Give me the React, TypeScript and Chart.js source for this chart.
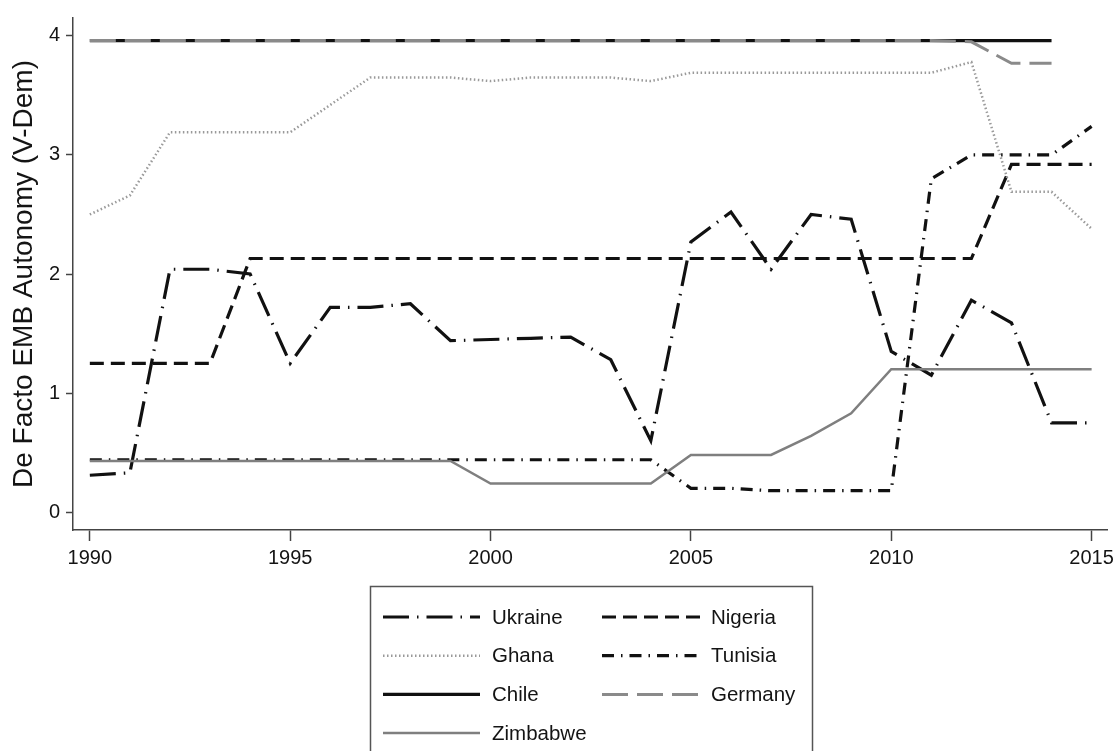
import React, { useEffect, useRef } from "react";
import { Chart, registerables } from "chart.js";

Chart.register(...registerables);

// ---- Data ----
const YEARS = [1990, 1991, 1992, 1993, 1994, 1995, 1996, 1997, 1998, 1999, 2000, 2001, 2002, 2003, 2004, 2005, 2006, 2007, 2008, 2009, 2010, 2011, 2012, 2013, 2014, 2015];

const UKRAINE = [0.31, 0.33, 2.04, 2.04, 2.0, 1.25, 1.72, 1.72, 1.75, 1.44, 1.45, 1.46, 1.47, 1.28, 0.6, 2.27, 2.52, 2.04, 2.5, 2.46, 1.35, 1.15, 1.78, 1.59, 0.75, 0.75];
const NIGERIA = [1.25, 1.25, 1.25, 1.25, 2.13, 2.13, 2.13, 2.13, 2.13, 2.13, 2.13, 2.13, 2.13, 2.13, 2.13, 2.13, 2.13, 2.13, 2.13, 2.13, 2.13, 2.13, 2.13, 2.92, 2.92, 2.92];
const GHANA = [2.5, 2.66, 3.19, 3.19, 3.19, 3.19, 3.42, 3.65, 3.65, 3.65, 3.62, 3.65, 3.65, 3.65, 3.62, 3.69, 3.69, 3.69, 3.69, 3.69, 3.69, 3.69, 3.78, 2.69, 2.69, 2.38];
const TUNISIA = [0.44, 0.44, 0.44, 0.44, 0.44, 0.44, 0.44, 0.44, 0.44, 0.44, 0.44, 0.44, 0.44, 0.44, 0.44, 0.2, 0.2, 0.18, 0.18, 0.18, 0.18, 2.8, 3.0, 3.0, 3.0, 3.24];
const CHILE = [3.96, 3.96, 3.96, 3.96, 3.96, 3.96, 3.96, 3.96, 3.96, 3.96, 3.96, 3.96, 3.96, 3.96, 3.96, 3.96, 3.96, 3.96, 3.96, 3.96, 3.96, 3.96, 3.96, 3.96, 3.96, null];
const GERMANY = [3.96, 3.96, 3.96, 3.96, 3.96, 3.96, 3.96, 3.96, 3.96, 3.96, 3.96, 3.96, 3.96, 3.96, 3.96, 3.96, 3.96, 3.96, 3.96, 3.96, 3.96, 3.96, 3.95, 3.77, 3.77, null];
const ZIMBABWE = [0.43, 0.43, 0.43, 0.43, 0.43, 0.43, 0.43, 0.43, 0.43, 0.43, 0.24, 0.24, 0.24, 0.24, 0.24, 0.48, 0.48, 0.48, 0.64, 0.83, 1.2, 1.2, 1.2, 1.2, 1.2, 1.2];

const X_TICKS = [1990, 1995, 2000, 2005, 2010, 2015];
const Y_TICKS = [0, 1, 2, 3, 4];
const Y_TITLE = "De Facto EMB Autonomy (V-Dem)";
const LEGEND_ROWS = [
  ["Ukraine", "Nigeria"],
  ["Ghana", "Tunisia"],
  ["Chile", "Germany"],
  ["Zimbabwe"],
];

const FONT = '"Liberation Sans", Arial, Helvetica, sans-serif';
const TEXT = "#141414";
const BLACK = "#111111";
const GRAY = "#8a8a8a";

type SeriesDef = {
  label: string;
  values: (number | null)[];
  color: string;
  width: number;
  dash: number[];
  order: number;
};

const SERIES: SeriesDef[] = [
  { label: "Ukraine", values: UKRAINE, color: BLACK, width: 3.2, dash: [26, 8, 1.5, 8], order: 6 },
  { label: "Nigeria", values: NIGERIA, color: BLACK, width: 3.2, dash: [14, 7], order: 5 },
  { label: "Ghana", values: GHANA, color: "#9a9a9a", width: 2.5, dash: [1.5, 2.5], order: 4 },
  { label: "Tunisia", values: TUNISIA, color: BLACK, width: 3.2, dash: [12, 7, 1.5, 7], order: 3 },
  { label: "Chile", values: CHILE, color: BLACK, width: 3.2, dash: [], order: 2 },
  { label: "Germany", values: GERMANY, color: GRAY, width: 3, dash: [26, 9], order: 1 },
  { label: "Zimbabwe", values: ZIMBABWE, color: "#7f7f7f", width: 2.5, dash: [], order: 0 },
];

const boxLegend = {
  id: "boxLegend",
  afterDraw(chart: any) {
    const ctx = chart.ctx as CanvasRenderingContext2D;
    ctx.save();
    ctx.setLineDash([]);
    ctx.strokeStyle = "#555";
    ctx.lineWidth = 1.5;
    ctx.strokeRect(370.5, 586.5, 442, 220);
    const cols = [
      [383, 480, 492],
      [602, 700, 711],
    ];
    const rowY0 = 617;
    const rowGap = 38.7;
    LEGEND_ROWS.forEach((row, r) => {
      row.forEach((label, c) => {
        const ds = chart.data.datasets.find((d: any) => d.label === label);
        if (!ds) return;
        const y = rowY0 + r * rowGap;
        ctx.beginPath();
        ctx.setLineDash(ds.borderDash || []);
        ctx.lineWidth = ds.borderWidth;
        ctx.strokeStyle = ds.borderColor;
        ctx.lineCap = "butt";
        ctx.moveTo(cols[c][0], y);
        ctx.lineTo(cols[c][1], y);
        ctx.stroke();
        ctx.setLineDash([]);
        ctx.fillStyle = TEXT;
        ctx.font = `20.5px ${FONT}`;
        ctx.textBaseline = "middle";
        ctx.textAlign = "left";
        ctx.fillText(label, cols[c][2], y + 1);
      });
    });
    ctx.restore();
  },
};

export default function App() {
  const canvasRef = useRef<HTMLCanvasElement | null>(null);

  useEffect(() => {
    const canvas = canvasRef.current;
    if (!canvas) return;
    const datasets = SERIES.map((s) => ({
      label: s.label,
      data: YEARS.map((yr, i) => ({ x: yr, y: s.values[i] })).filter((p) => p.y !== null),
      borderColor: s.color,
      backgroundColor: s.color,
      borderWidth: s.width,
      borderDash: s.dash,
      borderCapStyle: "butt" as const,
      borderJoinStyle: "miter" as const,
      pointRadius: 0,
      tension: 0,
      fill: false,
      order: s.order,
    }));

    const chart = new Chart(canvas, {
      type: "line",
      data: { datasets },
      options: {
        responsive: false,
        animation: false,
        layout: { padding: { left: 0, top: 15, right: 9, bottom: 171 } },
        plugins: {
          legend: { display: false },
          tooltip: { enabled: false },
        },
        scales: {
          x: {
            type: "linear",
            min: 1989.58,
            max: 2015.4,
            afterBuildTicks: (s: any) => {
              s.ticks = X_TICKS.map((v) => ({ value: v }));
            },
            afterFit: (s: any) => {
              s.height = 50;
            },
            grid: {
              drawOnChartArea: false,
              drawTicks: true,
              tickLength: 11,
              tickWidth: 1.5,
              tickColor: "#444",
            },
            border: { display: true, color: "#444", width: 1.5 },
            ticks: {
              padding: 5,
              color: TEXT,
              font: { family: FONT, size: 20 },
              maxRotation: 0,
              autoSkip: false,
              callback: (v: any) => String(v),
            },
          },
          y: {
            type: "linear",
            min: -0.15,
            max: 4.15,
            afterBuildTicks: (s: any) => {
              s.ticks = Y_TICKS.map((v) => ({ value: v }));
            },
            afterFit: (s: any) => {
              s.width = 73;
            },
            grid: {
              drawOnChartArea: false,
              drawTicks: true,
              tickLength: 7,
              tickWidth: 1.5,
              tickColor: "#444",
            },
            border: { display: true, color: "#444", width: 1.5 },
            ticks: {
              padding: 6,
              color: TEXT,
              font: { family: FONT, size: 20 },
              callback: (v: any) => String(v),
            },
            title: {
              display: true,
              text: Y_TITLE,
              color: TEXT,
              font: { family: FONT, size: 28 },
              padding: { top: 7, bottom: 0 },
            },
          },
        },
      },
      plugins: [boxLegend],
    });

    return () => chart.destroy();
  }, []);

  return (
    <div style={{ position: "absolute", left: 0, top: 0, width: 1119, height: 751, background: "#fff" }}>
      <canvas ref={canvasRef} width={1119} height={751} style={{ display: "block" }} />
    </div>
  );
}
